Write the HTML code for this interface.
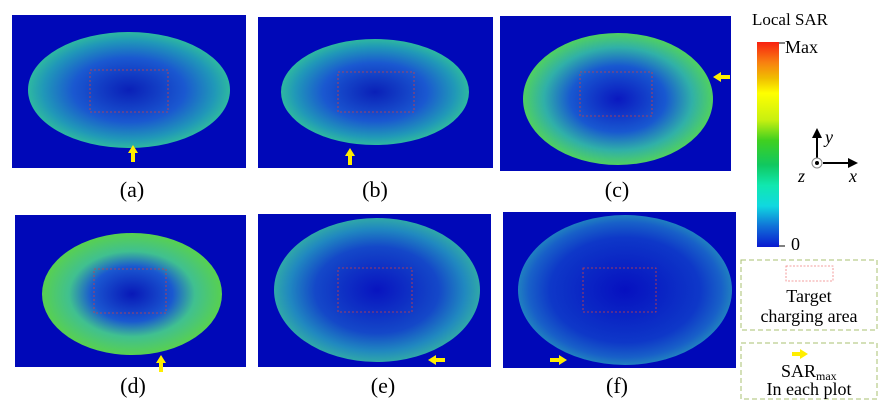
<!DOCTYPE html>
<html><head><style>body{margin:0;background:#fff}svg{display:block}text{font-family:"Liberation Serif",serif;fill:#000}</style></head><body>
<svg width="894" height="411" viewBox="0 0 894 411" xmlns="http://www.w3.org/2000/svg">
<defs>
<radialGradient id="gA" cx="50%" cy="50%" r="50%"><stop offset="0" stop-color="#0a20b8"/><stop offset="0.55" stop-color="#1a58d0"/><stop offset="0.85" stop-color="#2098b8"/><stop offset="1" stop-color="#2eb8a0"/></radialGradient>
<radialGradient id="gC" cx="50%" cy="50%" r="50%"><stop offset="0" stop-color="#0a18c0"/><stop offset="0.5" stop-color="#1858d0"/><stop offset="0.78" stop-color="#30b0a8"/><stop offset="1" stop-color="#50d060"/></radialGradient>
<radialGradient id="gD" cx="50%" cy="50%" r="50%"><stop offset="0" stop-color="#0818b8"/><stop offset="0.45" stop-color="#1a58d0"/><stop offset="0.7" stop-color="#40c090"/><stop offset="1" stop-color="#58d050"/></radialGradient>
<radialGradient id="gE" cx="50%" cy="50%" r="50%"><stop offset="0" stop-color="#0814c0"/><stop offset="0.6" stop-color="#1448c8"/><stop offset="0.85" stop-color="#2088c0"/><stop offset="1" stop-color="#30a8a8"/></radialGradient>
<radialGradient id="gF" cx="50%" cy="50%" r="50%"><stop offset="0" stop-color="#0610c0"/><stop offset="0.7" stop-color="#0e38c8"/><stop offset="0.9" stop-color="#1860c8"/><stop offset="1" stop-color="#2080c0"/></radialGradient>
<linearGradient id="cb" x1="0" y1="1" x2="0" y2="0">
<stop offset="0" stop-color="#0a1ad0"/><stop offset="0.1" stop-color="#1070d8"/><stop offset="0.2" stop-color="#10d8e0"/><stop offset="0.3" stop-color="#10e8b0"/><stop offset="0.4" stop-color="#10c860"/><stop offset="0.52" stop-color="#40d020"/><stop offset="0.62" stop-color="#c8f010"/><stop offset="0.75" stop-color="#ffff00"/><stop offset="0.82" stop-color="#f0c000"/><stop offset="0.9" stop-color="#f88010"/><stop offset="1" stop-color="#f82010"/></linearGradient>
</defs>
<rect x="12" y="15" width="234" height="153" fill="#0008b8"/>
<ellipse cx="129" cy="90" rx="101" ry="58" fill="url(#gA)"/>
<rect x="90" y="70" width="78" height="42" fill="none" stroke="#d04040" stroke-width="0.8" stroke-dasharray="2,2"/>
<rect x="258" y="17" width="235" height="151" fill="#0008b8"/>
<ellipse cx="375" cy="92" rx="94" ry="53" fill="url(#gA)"/>
<rect x="338" y="72" width="76" height="40" fill="none" stroke="#d04040" stroke-width="0.8" stroke-dasharray="2,2"/>
<rect x="500" y="16" width="231" height="155" fill="#0008b8"/>
<ellipse cx="618" cy="99" rx="95" ry="66" fill="url(#gC)"/>
<rect x="580" y="72" width="72" height="44" fill="none" stroke="#d04040" stroke-width="0.8" stroke-dasharray="2,2"/>
<rect x="15" y="215" width="231" height="152" fill="#0008b8"/>
<ellipse cx="132" cy="294" rx="90" ry="61" fill="url(#gD)"/>
<rect x="94" y="269" width="72" height="44" fill="none" stroke="#d04040" stroke-width="0.8" stroke-dasharray="2,2"/>
<rect x="258" y="214" width="233" height="153" fill="#0008b8"/>
<ellipse cx="377" cy="290" rx="103" ry="72" fill="url(#gE)"/>
<rect x="338" y="268" width="74" height="44" fill="none" stroke="#d04040" stroke-width="0.8" stroke-dasharray="2,2"/>
<rect x="503" y="212" width="233" height="156" fill="#0008b8"/>
<ellipse cx="625" cy="290" rx="107" ry="75" fill="url(#gF)"/>
<rect x="583" y="268" width="73" height="44" fill="none" stroke="#d04040" stroke-width="0.8" stroke-dasharray="2,2"/>
<g fill="#ffee00">
<polygon points="133,145 128,153 131,153 131,162 135,162 135,153 138,153"/>
<polygon points="350,148 345,156 348,156 348,165 352,165 352,156 355,156"/>
<polygon points="713,77 721,72 721,75 730,75 730,79 721,79 721,82"/>
<polygon points="161,355 156,363 159,363 159,372 163,372 163,363 166,363"/>
<polygon points="428,360 436,355 436,358 445,358 445,362 436,362 436,365"/>
<polygon points="567,360 559,355 559,358 550,358 550,362 559,362 559,365"/>
</g>
<g font-size="22" text-anchor="middle">
<text x="132" y="197">(a)</text><text x="375" y="197">(b)</text><text x="617" y="197">(c)</text>
<text x="133" y="393">(d)</text><text x="383" y="393">(e)</text><text x="617" y="393">(f)</text>
</g>
<text x="752" y="25" font-size="17">Local SAR</text>
<rect x="757" y="42" width="22" height="205" fill="url(#cb)"/>
<line x1="779" y1="43" x2="785" y2="43" stroke="#000"/>
<line x1="779" y1="246" x2="785" y2="246" stroke="#000"/>
<text x="785" y="53" font-size="18">Max</text>
<text x="791" y="250" font-size="18">0</text>
<line x1="817" y1="163" x2="817" y2="136" stroke="#000" stroke-width="2"/>
<polygon points="817,128 812,138 822,138" fill="#000"/>
<line x1="823" y1="163" x2="850" y2="163" stroke="#000" stroke-width="2"/>
<polygon points="858,163 848,158 848,168" fill="#000"/>
<circle cx="817" cy="163" r="5" fill="#fff" stroke="#888"/>
<circle cx="817" cy="163" r="2" fill="#000"/>
<text x="825" y="143" font-size="18" font-style="italic">y</text>
<text x="798" y="182" font-size="18" font-style="italic">z</text>
<text x="849" y="182" font-size="18" font-style="italic">x</text>
<rect x="741" y="260" width="136" height="70" fill="none" stroke="#a8c070" stroke-dasharray="5,3"/>
<rect x="786" y="266" width="47" height="15" fill="none" stroke="#f08080" stroke-width="0.8" stroke-dasharray="2,1.5"/>
<text x="809" y="302" font-size="18" text-anchor="middle">Target</text>
<text x="809" y="322" font-size="18" text-anchor="middle">charging area</text>
<rect x="741" y="343" width="136" height="56" fill="none" stroke="#a8c070" stroke-dasharray="5,3"/>
<polygon points="792,352 800,352 800,349 808,354 800,359 800,356 792,356" fill="#ffee00"/>
<text x="781" y="377" font-size="18">SAR<tspan font-size="12" dy="3">max</tspan></text>
<text x="809" y="395" font-size="18" text-anchor="middle">In each plot</text>
</svg>
</body></html>
